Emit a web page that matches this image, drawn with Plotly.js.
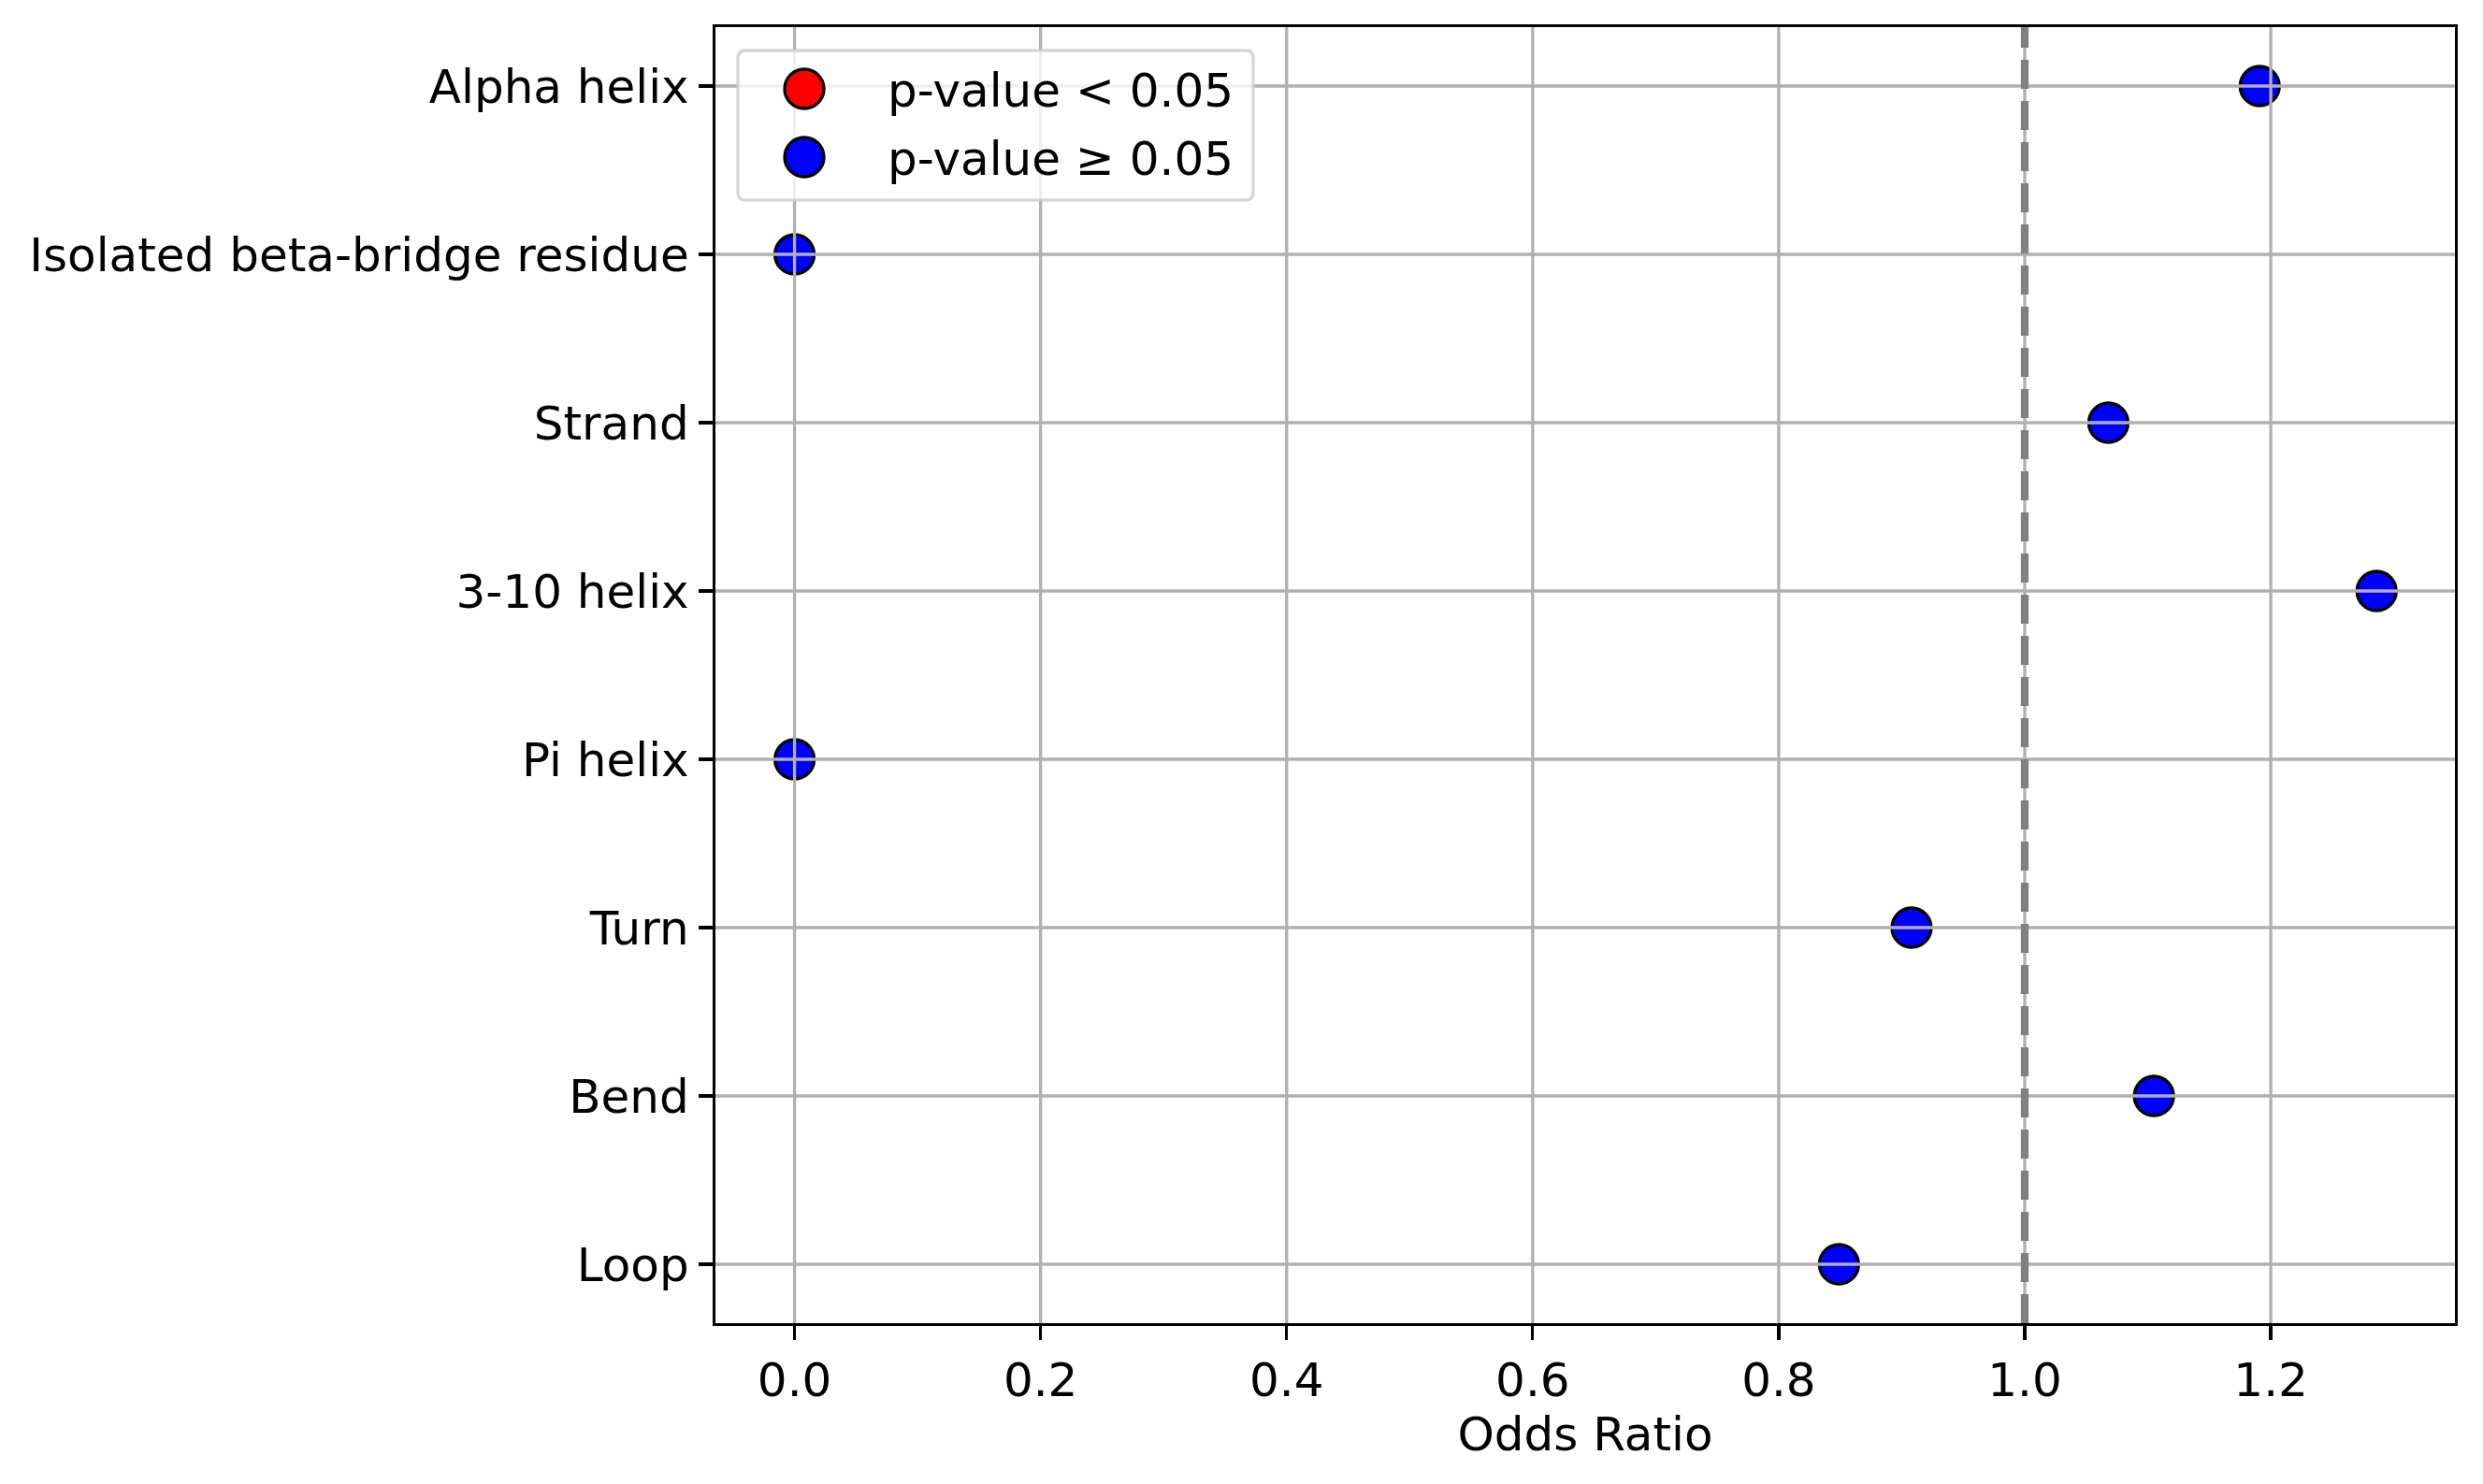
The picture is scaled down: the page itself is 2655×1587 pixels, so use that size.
<!DOCTYPE html>
<html>
<head>
<meta charset="utf-8">
<script src="https://cdn.plot.ly/plotly-3.0.1.min.js"></script>
<style>
  body { margin: 0; background: #fff; }
  #chart { width: 2655px; height: 1587px; }
</style>
</head>
<body>
<div id="chart"></div>
<script>
// secondary structure categories, top to bottom
var categories = ['Alpha helix', 'Isolated beta-bridge residue', 'Strand', '3-10 helix',
                  'Pi helix', 'Turn', 'Bend', 'Loop'];
var oddsRatios = [1.191, 0.0, 1.068, 1.286, 0.0, 0.908, 1.105, 0.849];
var significant = [false, false, false, false, false, false, false, false];
var xTicks = [0.0, 0.2, 0.4, 0.6, 0.8, 1.0, 1.2];
var legendLabels = ['p-value < 0.05', 'p-value \u2265 0.05'];
var legendColors = ['red', 'blue'];

var W = 2655, H = 1587;
var M = { l: 765, r: 30, t: 29, b: 172 };
var pw = W - M.l - M.r, ph = H - M.t - M.b;
// pixel -> paper helpers for the hand-built legend
function px(x) { return (x - M.l) / pw; }
function py(y) { return 1 - (y - M.t) / ph; }

var FONT = 'DejaVu Sans';
var LW = 3.3;

var trace = {
  type: 'scatter',
  mode: 'markers',
  x: oddsRatios,
  y: categories,
  marker: {
    size: 42,
    color: significant.map(function (s) { return s ? 'red' : 'blue'; }),
    line: { color: 'black', width: 3.3 }
  },
  showlegend: false,
  hoverinfo: 'x+y',
  cliponaxis: false
};

var shapes = [];
// grid drawn over the markers, as matplotlib does
xTicks.forEach(function (t) {
  shapes.push({ type: 'line', xref: 'x', yref: 'paper', x0: t, x1: t, y0: 0, y1: 1,
    line: { color: '#b0b0b0', width: LW }, layer: 'above' });
});
categories.forEach(function (c) {
  shapes.push({ type: 'line', xref: 'paper', yref: 'y', x0: 0, x1: 1, y0: c, y1: c,
    line: { color: '#b0b0b0', width: LW }, layer: 'above' });
});
// reference line at OR = 1
shapes.push({ type: 'line', xref: 'x', yref: 'paper', x0: 1, x1: 1, y0: 0, y1: 1,
  line: { color: 'gray', width: 8.3, dash: '31px,13px' }, layer: 'above' });

// legend box
var bx0 = 789, bx1 = 1340, by0 = 54, by1 = 214, rr = 8;
var path = 'M' + px(bx0 + rr) + ',' + py(by0) +
  ' L' + px(bx1 - rr) + ',' + py(by0) +
  ' Q' + px(bx1) + ',' + py(by0) + ' ' + px(bx1) + ',' + py(by0 + rr) +
  ' L' + px(bx1) + ',' + py(by1 - rr) +
  ' Q' + px(bx1) + ',' + py(by1) + ' ' + px(bx1 - rr) + ',' + py(by1) +
  ' L' + px(bx0 + rr) + ',' + py(by1) +
  ' Q' + px(bx0) + ',' + py(by1) + ' ' + px(bx0) + ',' + py(by1 - rr) +
  ' L' + px(bx0) + ',' + py(by0 + rr) +
  ' Q' + px(bx0) + ',' + py(by0) + ' ' + px(bx0 + rr) + ',' + py(by0) + ' Z';
shapes.push({ type: 'path', xref: 'paper', yref: 'paper', path: path,
  fillcolor: 'rgba(255,255,255,0.8)', line: { color: 'rgba(204,204,204,0.8)', width: LW },
  layer: 'above' });

var annotations = [];
var rowY = [95, 168];
legendLabels.forEach(function (lab, i) {
  shapes.push({ type: 'circle', xref: 'paper', yref: 'paper',
    xsizemode: 'pixel', ysizemode: 'pixel',
    xanchor: px(860), yanchor: py(rowY[i]),
    x0: -21, x1: 21, y0: -21, y1: 21,
    fillcolor: legendColors[i], line: { color: 'black', width: LW }, layer: 'above' });
  annotations.push({ xref: 'paper', yref: 'paper', x: px(947), y: py(rowY[i] + 2),
    xanchor: 'left', yanchor: 'middle', showarrow: false, text: lab,
    font: { family: FONT, size: 50, color: 'black' } });
});

var layout = {
  width: W, height: H,
  margin: M,
  paper_bgcolor: 'white', plot_bgcolor: 'white',
  font: { family: FONT, size: 50, color: 'black' },
  showlegend: false,
  xaxis: {
    range: [-0.0643, 1.3497],
    tickvals: xTicks,
    tickformat: '.1f',
    showgrid: false, zeroline: false,
    showline: true, mirror: true, linecolor: 'black', linewidth: LW,
    ticks: 'outside', ticklen: 15, tickwidth: LW, tickcolor: 'black',
    tickfont: { family: FONT, size: 50 },
    title: { text: 'Odds Ratio', font: { family: FONT, size: 50 }, standoff: 11 }
  },
  yaxis: {
    type: 'category',
    categoryorder: 'array', categoryarray: categories,
    range: [7.35, -0.35],
    showgrid: false, zeroline: false,
    showline: true, mirror: true, linecolor: 'black', linewidth: LW,
    ticks: 'outside', ticklen: 15, tickwidth: LW, tickcolor: 'black',
    tickfont: { family: FONT, size: 50 }
  },
  shapes: shapes,
  annotations: annotations
};

Plotly.newPlot('chart', [trace], layout, { displayModeBar: false, staticPlot: true });
</script>
</body>
</html>
